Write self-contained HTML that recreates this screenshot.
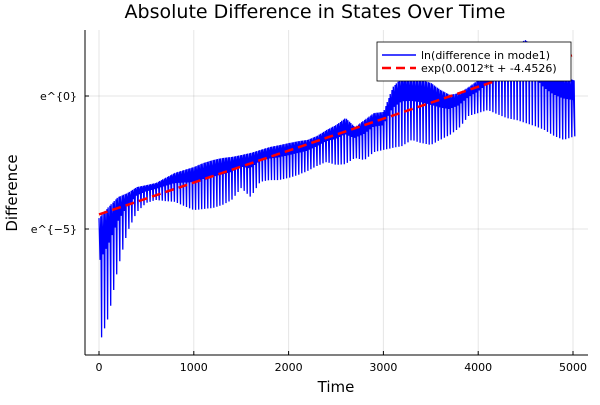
<!DOCTYPE html>
<html><head><meta charset="utf-8"><style>
body{margin:0;background:#fff}
svg{font-family:"DejaVu Sans","Liberation Sans",sans-serif}
</style></head><body>
<svg width="600" height="400" id="c">
<rect width="600" height="400" fill="#fff"/>
<text x="315" y="18" font-size="19" text-anchor="middle">Absolute Difference in States Over Time</text>
<g id="grid"></g>
<g id="clip-g"><clipPath id="cp"><rect x="85" y="30" width="503" height="325"/></clipPath></g>
<g id="series" clip-path="url(#cp)"></g>
<line x1="85" y1="30" x2="85" y2="355" stroke="#000"/>
<line x1="85" y1="355" x2="588" y2="355" stroke="#000"/>
<g id="ticks"></g>
<text x="336" y="392" font-size="15" text-anchor="middle">Time</text>
<text x="17" y="193" font-size="15" text-anchor="middle" transform="rotate(-90 17 193)">Difference</text>
<g>
<rect x="377" y="42" width="194" height="39" fill="#fff" stroke="#000" stroke-width="0.8"/>
<line x1="382" y1="55" x2="416" y2="55" stroke="#0000ff" stroke-width="1.5"/>
<text x="421" y="59" font-size="11">ln(difference in mode1)</text>
<line x1="382" y1="68" x2="416" y2="68" stroke="#ff0000" stroke-width="2.5" stroke-dasharray="9,5"/>
<text x="421" y="72" font-size="11">exp(0.0012*t + -4.4526)</text>
</g>
</svg>
<script>
const xTicks=[0,1000,2000,3000,4000,5000];
const yTickVals=[0,-5];
const yTickLabels=["e^{0}","e^{−5}"];
const times=[0,100,200,300,400,500,600,700,800,900,1000,1100,1200,1300,1400,1500,1600,1700,1800,1900,2000,2100,2200,2300,2400,2500,2600,2700,2800,2900,3000,3100,3200,3300,3400,3500,3600,3700,3800,3900,4000,4100,4200,4300,4400,4500,4600,4700,4800,4900,5000];
const upper=[-4.59,-4.17,-3.80,-3.65,-3.42,-3.35,-3.27,-3.08,-2.89,-2.78,-2.67,-2.52,-2.41,-2.33,-2.29,-2.22,-2.14,-2.03,-1.92,-1.85,-1.77,-1.70,-1.65,-1.50,-1.28,-1.09,-0.83,-1.17,-0.90,-0.64,-0.60,0.34,0.71,0.60,0.60,0.49,0.23,0.04,0.11,0.34,0.60,0.98,1.35,1.73,1.92,2.11,1.73,1.17,0.90,0.75,0.60];
const lower=[-9.36,-8.31,-6.47,-5.11,-4.36,-4.02,-3.91,-3.95,-3.98,-4.14,-4.29,-4.25,-4.21,-4.10,-3.91,-3.46,-3.80,-3.23,-3.16,-3.16,-3.08,-2.97,-2.82,-2.63,-2.48,-2.59,-2.56,-2.33,-2.41,-2.11,-2.03,-1.95,-1.88,-1.65,-1.77,-1.84,-1.65,-1.47,-1.20,-0.75,-0.64,-0.53,-0.68,-0.83,-0.90,-1.02,-1.13,-1.28,-1.50,-1.65,-1.54];
const fitSlope=[0.0012];
const fitIntercept=[-4.4526];
const NS="http://www.w3.org/2000/svg";
const X=t=>99+t*(474/5000);
const Y=v=>96-v*26.6;
function mk(tag,attrs,parent){const e=document.createElementNS(NS,tag);for(const k in attrs)e.setAttribute(k,attrs[k]);parent.appendChild(e);return e;}
const grid=document.getElementById('grid'),ticks=document.getElementById('ticks'),ser=document.getElementById('series');
xTicks.forEach(t=>{
  const g=mk('line',{x1:X(t),x2:X(t),y1:30,y2:355,stroke:'#000','stroke-opacity':0.1},grid);
  
  
  const tk=mk('line',{x1:X(t),x2:X(t),y1:355,y2:351,stroke:'#000'},ticks);
  
  
  const l=mk('text',{x:X(t),y:371,'font-size':11,'text-anchor':'middle'},ticks);l.textContent=t;
  
  
});
yTickVals.forEach((v,i)=>{
  const g=mk('line',{x1:85,x2:588,y1:Y(v),y2:Y(v),stroke:'#000','stroke-opacity':0.1},grid);
  
  
  const tk=mk('line',{x1:85,x2:89,y1:Y(v),y2:Y(v),stroke:'#000'},ticks);
  
  
  const l=mk('text',{x:77,y:Y(v)+4,'font-size':11,'text-anchor':'end'},ticks);l.textContent=yTickLabels[i];
  
  
});
function env(arr,t){const i=Math.min(Math.floor(t/100),times.length-2);const f=(t-times[i])/100;return arr[i]+(arr[i+1]-arr[i])*f;}
let pts=[];const P=32;
for(let t=0;t<5000;t+=P){
  const u0=env(upper,t),l0=env(lower,t+P*0.85);
  const uM=env(upper,t+P*0.5), lM=env(lower,t+P*0.5);
  pts.push([t,u0],[t+P*0.35,uM-0.35*(uM-lM)],[t+P*0.6,uM],[t+P*0.85,l0]);
}
pts.push([5000,upper[upper.length-1]]);
const pl=mk('polyline',{points:pts.map(p=>X(p[0]).toFixed(1)+','+Y(p[1]).toFixed(1)).join(' '),fill:'none',stroke:'#0000ff','stroke-width':1.3,'stroke-linejoin':'miter'},ser);


const fl=mk('line',{x1:X(0),y1:Y(fitIntercept[0]),x2:X(5000),y2:Y(fitIntercept[0]+fitSlope[0]*5000),stroke:'#ff0000','stroke-width':2.5,'stroke-dasharray':'9,5'},ser);


</script>
</body></html>
